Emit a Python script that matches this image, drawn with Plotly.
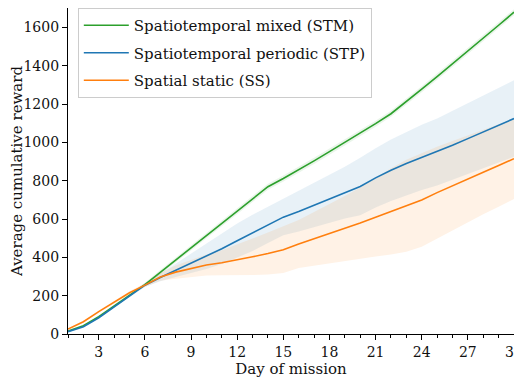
import plotly.graph_objects as go

days = list(range(1, 31))

stm_mean = [15, 43, 90, 146, 204, 258, 322, 386, 450, 513, 577, 641, 705, 769, 812,
            856, 904, 952, 1000, 1048, 1098, 1150, 1212, 1278, 1344, 1410, 1477, 1545, 1612, 1680]
stm_sd = [4, 5, 7, 8, 9, 10, 12, 13, 14, 15, 15, 15, 15, 16, 16,
          16, 16, 16, 16, 16, 16, 16, 16, 16, 16, 16, 16, 16, 16, 16]

stp_mean = [12, 38, 85, 143, 200, 255, 295, 332, 368, 405, 445, 487, 528, 570, 610,
            640, 672, 705, 738, 770, 815, 855, 890, 922, 950, 985, 1020, 1055, 1090, 1125]
stp_sd = [4, 5, 6, 7, 8, 10, 20, 35, 50, 65, 80, 90, 95, 95, 95,
          105, 115, 125, 135, 150, 155, 160, 165, 170, 175, 180, 185, 190, 195, 200]

ss_mean = [26, 64, 117, 168, 215, 255, 298, 323, 343, 360, 372, 386, 403, 420, 440,
           470, 497, 523, 550, 580, 610, 640, 670, 700, 738, 775, 810, 845, 880, 915]
ss_sd = [4, 5, 6, 7, 8, 10, 20, 35, 45, 55, 65, 80, 95, 110, 122,
         125, 140, 155, 170, 185, 205, 225, 240, 245, 240, 232, 225, 220, 215, 210]

series = [
    ("Spatiotemporal mixed (STM)", stm_mean, stm_sd, "#2ca02c", "rgba(44,160,44,0.1)"),
    ("Spatiotemporal periodic (STP)", stp_mean, stp_sd, "#1f77b4", "rgba(31,119,180,0.1)"),
    ("Spatial static (SS)", ss_mean, ss_sd, "#ff7f0e", "rgba(255,127,14,0.1)"),
]

fig = go.Figure()
for i, (name, m, s, col, fcol) in enumerate(series):
    lo = [a - b for a, b in zip(m, s)]
    hi = [a + b for a, b in zip(m, s)]
    fig.add_trace(go.Scatter(x=days, y=lo, mode="lines", line=dict(width=0, color=fcol),
                             showlegend=False, hoverinfo="skip", legendgroup=f"g{i}"))
    fig.add_trace(go.Scatter(x=days, y=hi, mode="lines", line=dict(width=0, color=fcol),
                             fill="tonexty", fillcolor=fcol, showlegend=False,
                             hoverinfo="skip", legendgroup=f"g{i}"))
for i, (name, m, s, col, fcol) in enumerate(series):
    fig.add_trace(go.Scatter(x=days, y=m, mode="lines", name=name,
                             line=dict(color=col, width=1.6), legendgroup=f"g{i}"))

font_family = "DejaVu Serif"
txt = "#111111"
fig.update_layout(
    width=514, height=373,
    margin=dict(l=60, r=8, t=0, b=47, autoexpand=False),
    plot_bgcolor="white", paper_bgcolor="white",
    font=dict(family=font_family, size=14, color=txt),
    showlegend=True,
    legend=dict(x=0.022, y=1.0, xanchor="left", yanchor="top",
                bgcolor="rgba(255,255,255,0.8)", bordercolor="#cccccc", borderwidth=1,
                font=dict(family=font_family, size=15, color=txt),
                traceorder="grouped", tracegroupgap=5, itemwidth=45),
    xaxis=dict(range=[1, 30], tickmode="array", tickvals=list(range(3, 31, 3)),
               ticklabeloverflow="allow",
               showgrid=False, zeroline=False, showline=True, linecolor="black", linewidth=1.2,
               ticks="outside", ticklen=5, tickcolor="black", tickwidth=1,
               minor=dict(dtick=1, tick0=0, ticks="outside", ticklen=3, tickcolor="black", showgrid=False),
               title=dict(text="Day of mission", font=dict(size=15), standoff=4)),
    yaxis=dict(range=[0, 1702], tickmode="array", tickvals=list(range(0, 1601, 200)),
               ticklabeloverflow="allow",
               showgrid=False, zeroline=False, showline=True, linecolor="black", linewidth=1.2,
               ticks="outside", ticklen=5, tickcolor="black", tickwidth=1,
               title=dict(text="Average cumulative reward", font=dict(size=15), standoff=6)),
)

fig.write_html("out.html")
